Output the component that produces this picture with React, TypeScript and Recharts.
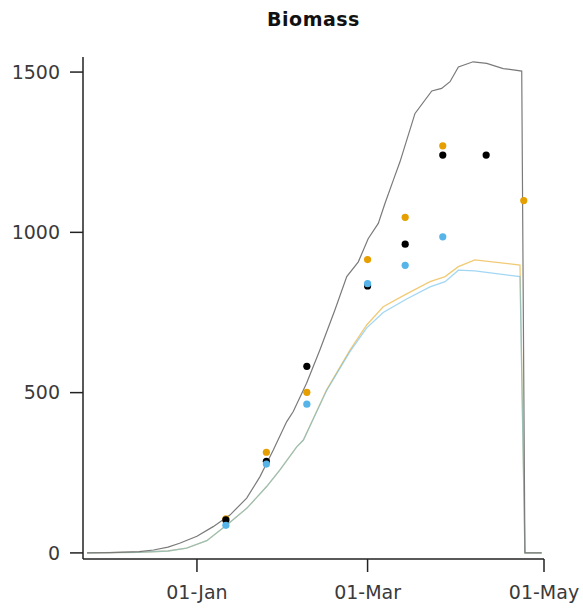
import { ComposedChart, Line, Scatter, XAxis, YAxis } from 'recharts'

// x = days since 01-Jan
const xTickDays = [0, 59, 120]
const xTickLabels = ['01-Jan', '01-Mar', '01-May']
const yTicks = [0, 500, 1000, 1500]

// simulated biomass (grey, orange, blue)
const simGreyDays = [-38, -30, -20, -15, -10, -6, 0, 5.6, 11.4, 17.2, 21.8, 26.4, 31, 33.3, 37.9, 42.5, 47.7, 51.8, 55.8, 59.2, 62.7, 65, 67.9, 70.2, 75.4, 81.2, 84.6, 87.5, 90.4, 95.5, 100.2, 105.9, 112.3, 113.4, 119.2]
const simGreyVals = [0, 1, 4, 9, 18, 30, 52, 82, 118, 171, 238, 321, 409, 441, 529, 633, 758, 862, 908, 980, 1028, 1090, 1163, 1220, 1371, 1441, 1449, 1470, 1516, 1532, 1527, 1511, 1503, 0, 0]

const simOrangeDays = [-38, -20, -10, -3.6, 3.4, 10.3, 17.2, 24.1, 28.7, 34.5, 36.8, 44.8, 52.9, 58.7, 64.4, 72.5, 80.6, 85.8, 90.4, 96.1, 111.7, 113.4, 119.2]
const simOrangeVals = [0, 2, 6, 15, 38, 87, 139, 207, 259, 331, 352, 508, 633, 711, 768, 808, 846, 862, 893, 914, 898, 0, 0]

const simBlueDays = [-38, -20, -10, -3.6, 3.4, 10.3, 17.2, 24.1, 28.7, 34.5, 36.8, 44.8, 52.9, 58.7, 64.4, 72.5, 80.6, 85.8, 90.4, 96.1, 111.7, 113.4, 119.2]
const simBlueVals = [0, 2, 6, 15, 38, 87, 139, 207, 259, 331, 352, 506, 628, 702, 750, 792, 830, 846, 882, 880, 862, 0, 0]

// observed biomass
const obsBlackDays = [10, 24, 38, 59, 72, 85, 100]
const obsBlackVals = [103, 286, 582, 833, 963, 1241, 1241]
const obsOrangeDays = [10, 24, 38, 59, 72, 85, 113]
const obsOrangeVals = [106, 314, 501, 915, 1047, 1270, 1099]
const obsBlueDays = [10, 24, 38, 59, 72, 85]
const obsBlueVals = [86, 277, 464, 840, 897, 986]

const GREY = '#7a7a7a'
const ORANGE = '#E69F00'
const BLUE = '#56B4E9'

const zip = (days: number[], vals: number[]) => days.map((day, i) => ({ day, value: vals[i] }))

const dot = (color: string) => (p: any) => <circle cx={p.cx} cy={p.cy} r={3.6} fill={color} />

const font = 'DejaVu Sans, Verdana, sans-serif'
const tick = { fontSize: 19, fill: '#3a3a3a', fontFamily: font }

export default function App() {
  return (
    <div style={{ position: 'absolute', left: 0, top: 0, width: 583, height: 612, background: '#fff' }}>
      <div style={{ position: 'absolute', left: 83, width: 461, top: 8, textAlign: 'center', fontFamily: font, fontWeight: 'bold', fontSize: 19, letterSpacing: 0.5, color: '#111' }}>
        Biomass
      </div>
      <ComposedChart width={583} height={612} margin={{ top: 57, right: 39, left: 23, bottom: 23 }}>
        <XAxis
          type="number"
          dataKey="day"
          domain={[-39.4, 120]}
          ticks={xTickDays}
          tickFormatter={d => xTickLabels[xTickDays.indexOf(d)]}
          allowDataOverflow
          height={30}
          tick={tick}
          tickSize={13}
          tickMargin={14}
          stroke="#222"
          strokeWidth={1.5}
        />
        <YAxis
          type="number"
          dataKey="value"
          domain={[-19, 1547]}
          ticks={yTicks}
          allowDataOverflow
          width={60}
          tick={tick}
          tickSize={13}
          tickMargin={10}
          stroke="#222"
          strokeWidth={1.5}
        />
        <Line data={zip(simOrangeDays, simOrangeVals)} dataKey="value" type="linear" stroke={ORANGE} strokeOpacity={0.55} strokeWidth={1.3} dot={false} isAnimationActive={false} />
        <Line data={zip(simBlueDays, simBlueVals)} dataKey="value" type="linear" stroke={BLUE} strokeOpacity={0.55} strokeWidth={1.3} dot={false} isAnimationActive={false} />
        <Line data={zip(simGreyDays, simGreyVals)} dataKey="value" type="linear" stroke={GREY} strokeWidth={1.2} dot={false} isAnimationActive={false} />
        <Scatter data={zip(obsOrangeDays, obsOrangeVals)} dataKey="value" shape={dot(ORANGE)} isAnimationActive={false} />
        <Scatter data={zip(obsBlackDays, obsBlackVals)} dataKey="value" shape={dot('#000')} isAnimationActive={false} />
        <Scatter data={zip(obsBlueDays, obsBlueVals)} dataKey="value" shape={dot(BLUE)} isAnimationActive={false} />
      </ComposedChart>
    </div>
  )
}
